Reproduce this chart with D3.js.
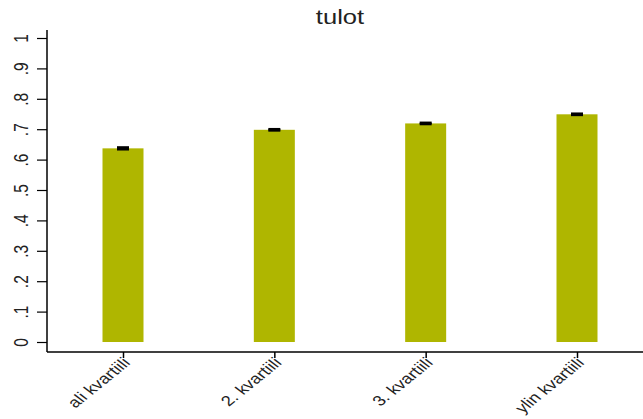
<!DOCTYPE html>
<html>
<head>
<meta charset="utf-8">
<script src="https://cdn.jsdelivr.net/npm/d3@7"></script>
<style>
  html, body { margin: 0; padding: 0; background: #fff; }
  svg { display: block; }
  text { font-family: "Liberation Sans", Arial, sans-serif; fill: #222; }
</style>
</head>
<body>
<svg id="chart" width="643" height="419"></svg>
<script>
const title = "tulot";
const categories = ["ali kvartiili", "2. kvartiili", "3. kvartiili", "ylin kvartiili"];
const values = [0.637, 0.698, 0.719, 0.749];
const errLow = [0.634, 0.696, 0.717, 0.747];
const errHigh = [0.640, 0.700, 0.721, 0.751];
const yTicks = [0, 0.1, 0.2, 0.3, 0.4, 0.5, 0.6, 0.7, 0.8, 0.9, 1];
const yTickLabels = ["0", ".1", ".2", ".3", ".4", ".5", ".6", ".7", ".8", ".9", "1"];

const svg = d3.select("#chart");
const barColor = "#afb600";
const stretch = 1.28;

const x = d3.scalePoint().domain(categories).range([123, 577]);
const y = d3.scaleLinear().domain([0, 1]).range([342, 38]);
const barW = 41;

// Title
svg.append("text")
  .attr("transform", `translate(340,24) scale(${stretch},1)`)
  .attr("text-anchor", "middle")
  .style("font-size", "20px")
  .text(title);

// Bars
svg.append("g").selectAll("rect")
  .data(categories)
  .join("rect")
  .attr("x", d => x(d) - barW / 2)
  .attr("width", barW)
  .attr("y", (d, i) => y(values[i]))
  .attr("height", (d, i) => y(0) - y(values[i]))
  .attr("fill", barColor);

// Error bars
const eg = svg.append("g").attr("stroke", "#000").attr("stroke-width", 2.5);
categories.forEach((c, i) => {
  const cx = x(c);
  eg.append("line").attr("x1", cx).attr("x2", cx).attr("y1", y(errLow[i])).attr("y2", y(errHigh[i]));
  eg.append("line").attr("x1", cx - 6).attr("x2", cx + 6).attr("y1", y(errHigh[i])).attr("y2", y(errHigh[i]));
  eg.append("line").attr("x1", cx - 6).attr("x2", cx + 6).attr("y1", y(errLow[i])).attr("y2", y(errLow[i]));
});

// Y axis
const yAxis = d3.axisLeft(y).tickValues(yTicks)
  .tickFormat((d, i) => yTickLabels[i]).tickSize(10).tickPadding(4);
const yg = svg.append("g").attr("transform", "translate(47,0)").call(yAxis);
yg.select(".domain").remove();
yg.append("line").attr("x1", 0).attr("x2", 0).attr("y1", 30).attr("y2", 352)
  .attr("stroke", "#000").attr("stroke-width", 1.5);
yg.selectAll(".tick line").attr("stroke", "#000").attr("stroke-width", 1.2);
yg.selectAll(".tick text")
  .attr("x", null)
  .attr("text-anchor", "middle")
  .attr("transform", `translate(-26,0) scale(${stretch},1) rotate(-90)`)
  .attr("dy", "0.35em")
  .style("font-size", "15.5px")
  .attr("fill", "#333");

// X axis
const xAxis = d3.axisBottom(x).tickSize(6).tickPadding(3);
const xg = svg.append("g").attr("transform", "translate(0,352)").call(xAxis);
xg.select(".domain").remove();
xg.append("line").attr("x1", 47).attr("x2", 643).attr("y1", 0).attr("y2", 0)
  .attr("stroke", "#000").attr("stroke-width", 1.5);
xg.selectAll(".tick line").attr("stroke", "#000").attr("stroke-width", 1.5);
xg.selectAll(".tick text")
  .attr("text-anchor", "end")
  .attr("y", null)
  .attr("transform", `translate(3,8) scale(${stretch},1) rotate(-46)`)
  .attr("dy", "0.35em")
  .style("font-size", "14.5px")
  .attr("fill", "#333");
</script>
</body>
</html>
